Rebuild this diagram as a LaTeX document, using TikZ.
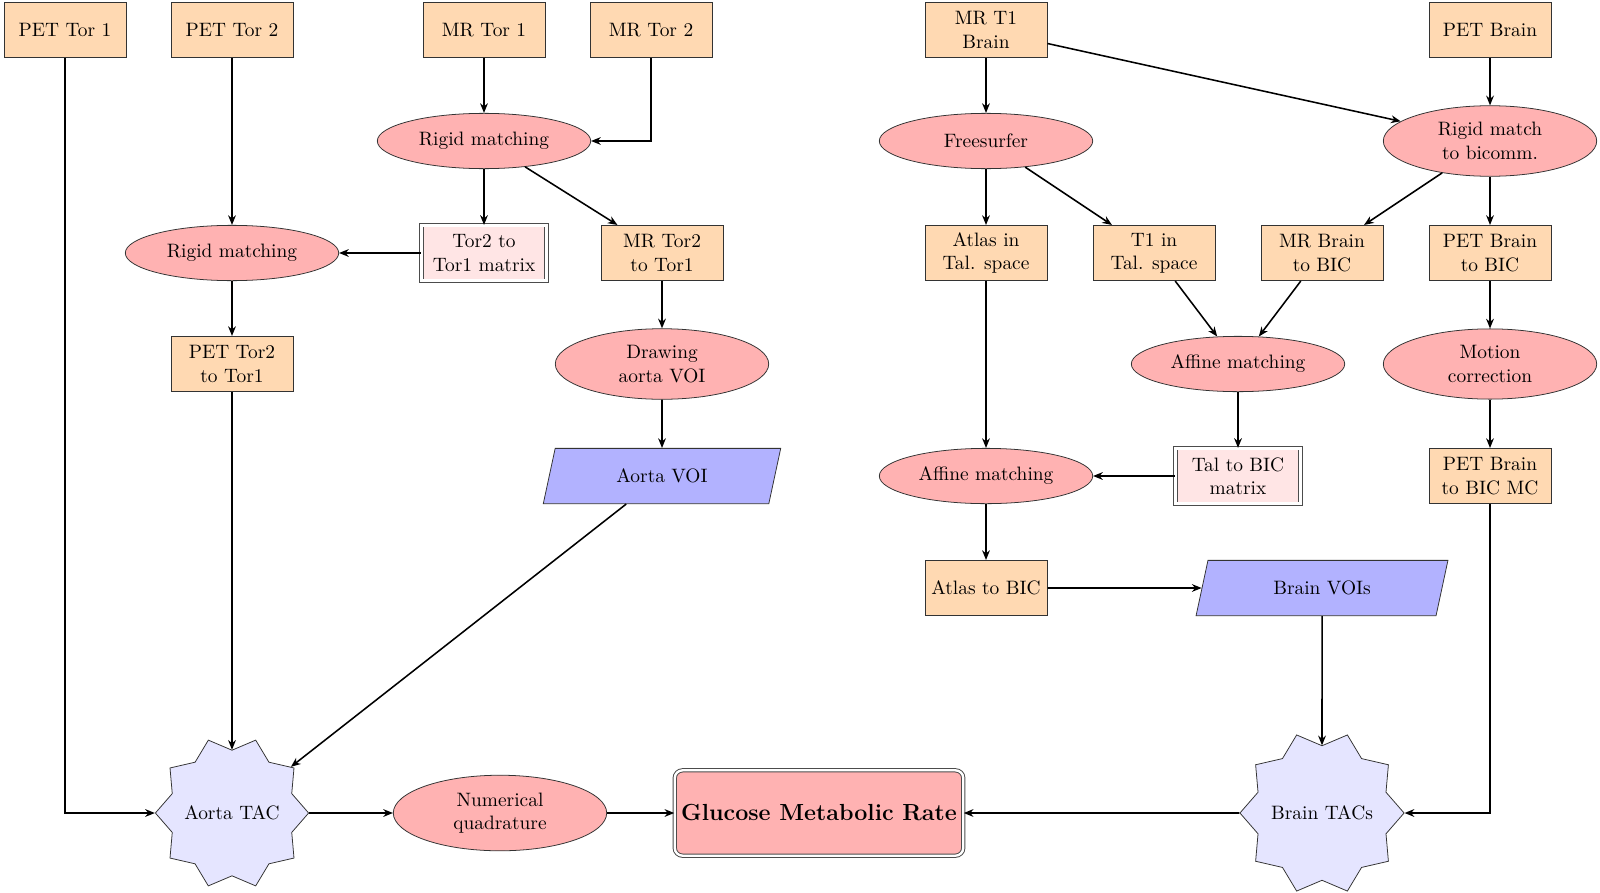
\documentclass[tikz,border=0pt]{standalone}
\usetikzlibrary{shapes.geometric,shapes.symbols,arrows.meta}
\begin{document}
\begin{tikzpicture}[x=0.5155pt,y=-0.5155pt,
  box/.style={rectangle,draw=black!80,fill=orange!30,minimum width=63pt,minimum height=28.5pt,align=center,inner sep=2pt},
  proc/.style={ellipse,draw=black!80,fill=red!30,minimum width=110pt,minimum height=28.5pt,align=center},
  mat/.style={rectangle,draw=black!70,line width=0.5pt,double,double distance=1.2pt,fill=red!10,minimum width=64.5pt,minimum height=28.5pt,align=center,inner sep=2pt},
  data/.style={trapezium,trapezium left angle=78,trapezium right angle=102,trapezium stretches=true,draw=black!80,fill=blue!30,minimum height=28.5pt},
  tac/.style={star,star points=10,star point ratio=1.22,shape border rotate=18,inner xsep=-1.7pt,inner ysep=0pt,draw=black!80,fill=blue!10},
  arr/.style={-{Stealth[length=5pt,width=4pt]},line width=0.8pt},
]
\useasboundingbox (0,0) rectangle (1600,892);
% row 1
\node[box] (ptor1) at (65,30) {PET Tor 1};
\node[box] (ptor2) at (232,30) {PET Tor 2};
\node[box] (mtor1) at (484,30) {MR Tor 1};
\node[box] (mtor2) at (651,30) {MR Tor 2};
\node[box] (mt1) at (986,30) {MR T1\\Brain};
\node[box] (pbrain) at (1490,30) {PET Brain};
% row 2
\node[proc] (rig1) at (484,141) {Rigid matching};
\node[proc] (free) at (986,141) {Freesurfer};
\node[proc] (rigb) at (1490,141) {Rigid match\\to bicomm.};
% row 3
\node[proc] (rig2) at (232,253) {Rigid matching};
\node[mat] (t2t1m) at (484,253) {Tor2 to\\Tor1 matrix};
\node[box] (mt2t1) at (662,253) {MR Tor2\\to Tor1};
\node[box] (atlas) at (986,253) {Atlas in\\Tal. space};
\node[box] (t1tal) at (1154,253) {T1 in\\Tal. space};
\node[box] (mbbic) at (1322,253) {MR Brain\\to BIC};
\node[box] (pbbic) at (1490,253) {PET Brain\\to BIC};
% row 4
\node[box] (pt2t1) at (232,364) {PET Tor2\\to Tor1};
\node[proc] (draw) at (662,364) {Drawing\\aorta VOI};
\node[proc] (aff1) at (1238,364) {Affine matching};
\node[proc] (moco) at (1490,364) {Motion\\correction};
% row 5
\node[data,minimum width=123pt] (avoi) at (662,476) {Aorta VOI};
\node[proc] (aff2) at (986,476) {Affine matching};
\node[mat] (talm) at (1238,476) {Tal to BIC\\matrix};
\node[box] (pbmc) at (1490,476) {PET Brain\\to BIC MC};
% row 6
\node[box] (abic) at (986,588) {Atlas to BIC};
\node[data,minimum width=130pt] (bvoi) at (1322,588) {Brain VOIs};
% row 7
\node[tac] (atac) at (232,813) {Aorta TAC};
\node[proc] (numq) at (500,813) {Numerical\\quadrature};
\node[rectangle,rounded corners,draw=black!70,line width=0.5pt,double,double distance=1.2pt,fill=red!30,minimum height=44pt,font=\large\bfseries] (gmr) at (819,813) {Glucose Metabolic Rate};
\node[tac] (btac) at (1322,813) {Brain TACs};
% edges left
\draw[arr] (ptor1) |- (atac);
\draw[arr] (ptor2) -- (rig2);
\draw[arr] (mtor1) -- (rig1);
\draw[arr] (mtor2) |- (rig1);
\draw[arr] (rig1) -- (t2t1m);
\draw[arr] (rig1) -- (mt2t1);
\draw[arr] (t2t1m) -- (rig2);
\draw[arr] (rig2) -- (pt2t1);
\draw[arr] (pt2t1) -- (atac);
\draw[arr] (mt2t1) -- (draw);
\draw[arr] (draw) -- (avoi);
\draw[arr] (avoi) -- (atac);
\draw[arr] (atac) -- (numq);
\draw[arr] (numq) -- (gmr);
\draw[arr] (btac) -- (gmr);
% edges right
\draw[arr] (mt1) -- (free);
\draw[arr] (mt1) -- (rigb);
\draw[arr] (pbrain) -- (rigb);
\draw[arr] (free) -- (atlas);
\draw[arr] (free) -- (t1tal);
\draw[arr] (rigb) -- (mbbic);
\draw[arr] (rigb) -- (pbbic);
\draw[arr] (t1tal) -- (aff1);
\draw[arr] (mbbic) -- (aff1);
\draw[arr] (atlas) -- (aff2);
\draw[arr] (aff1) -- (talm);
\draw[arr] (talm) -- (aff2);
\draw[arr] (aff2) -- (abic);
\draw[arr] (abic) -- (bvoi);
\draw[arr] (bvoi) -- (btac);
\draw[arr] (pbbic) -- (moco);
\draw[arr] (moco) -- (pbmc);
\draw[arr] (pbmc) |- (btac);
\end{tikzpicture}
\end{document}
